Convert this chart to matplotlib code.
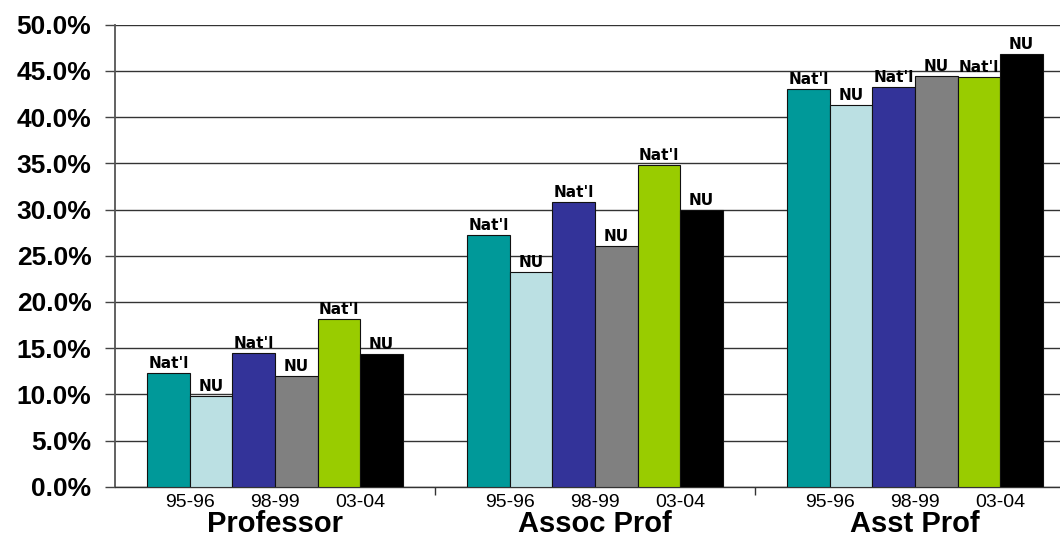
import matplotlib
matplotlib.use('Agg')
import matplotlib.pyplot as plt
import numpy as np
from matplotlib.transforms import blended_transform_factory

plt.rcParams['font.family'] = ['Liberation Sans', 'DejaVu Sans']

ranks = ['Professor', 'Assoc Prof', 'Asst Prof']
periods = ['95-96', '98-99', '03-04']
series_labels = ["Nat'l", 'NU', "Nat'l", 'NU', "Nat'l", 'NU']

natl_9596 = [12.3, 27.2, 43.0]
nu_9596 = [9.8, 23.2, 41.3]
natl_9899 = [14.5, 30.8, 43.3]
nu_9899 = [12.0, 26.0, 44.4]
natl_0304 = [18.1, 34.8, 44.3]
nu_0304 = [14.4, 29.9, 46.8]

series_values = [natl_9596, nu_9596, natl_9899, nu_9899, natl_0304, nu_0304]
colors = ['#009999', '#BBE0E3', '#333399', '#808080', '#99CC00', '#000000']

W, H = 1060, 539
fig = plt.figure(figsize=(W / 100, H / 100), dpi=100)
ax = fig.add_axes([115 / W, (H - 486.7) / H, 960 / W, 462 / H])

x = np.arange(len(ranks))
w = 0.8 / len(series_values)
for i, (vals, lab, col) in enumerate(zip(series_values, series_labels, colors)):
    pos = x + (i - 2.5) * w
    ax.bar(pos, vals, w, color=col, edgecolor='#111111', linewidth=0.8, zorder=3)
    for p, v in zip(pos, vals):
        ax.annotate(lab, (p, v), xytext=(0, 1.5), textcoords='offset points',
                    ha='center', va='bottom', fontsize=11, fontweight='bold',
                    family='DejaVu Sans', zorder=4)

ax.set_xlim(-0.5, 2.5)
ax.set_ylim(0, 50)
ax.set_yticks(np.arange(0, 51, 5))
ax.yaxis.set_major_formatter(lambda v, p: f'{v:.1f}%')
ax.tick_params(axis='y', labelsize=19, length=7, width=1, color='#444444', pad=10)
for t in ax.get_yticklabels():
    t.set_fontweight('bold')
ax.grid(axis='y', color='#333333', linewidth=1, zorder=0)
ax.set_axisbelow(True)

for s in ['top', 'right']:
    ax.spines[s].set_visible(False)
ax.spines['left'].set_color('#555555')
ax.spines['left'].set_linewidth(1.3)
ax.spines['bottom'].set_color('#333333')
ax.spines['bottom'].set_linewidth(1)

ax.set_xticks(np.arange(len(ranks) - 1) + 0.5)
ax.set_xticklabels([])
ax.tick_params(axis='x', length=6, width=1, color='#333333')

trans = blended_transform_factory(ax.transData, ax.transAxes)
for r, rank in enumerate(ranks):
    for j, per in enumerate(periods):
        xc = r + (2 * j - 2) * w
        ax.text(xc, -0.0433, per, transform=trans, ha='center', va='baseline',
                fontsize=14, clip_on=False)
    ax.text(r, -0.097, rank, transform=trans, ha='center', va='baseline',
            fontsize=21, fontweight='bold', clip_on=False)

fig.savefig('out.png', dpi=100)
